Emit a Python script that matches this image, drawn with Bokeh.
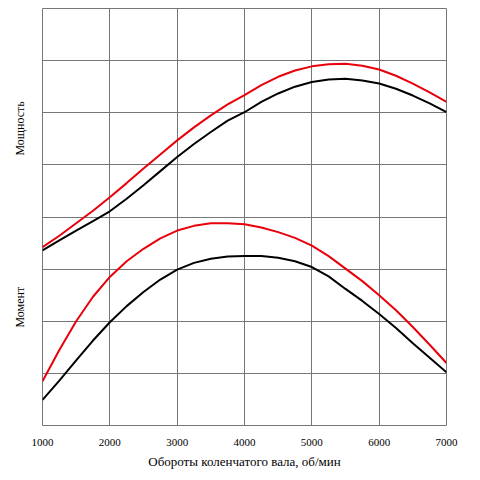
from bokeh.plotting import figure
from bokeh.models import Range1d, FixedTicker
from bokeh.embed import file_html
from bokeh.resources import INLINE

rpm = [1000, 1250, 1500, 1750, 2000, 2250, 2500, 2750, 3000, 3250, 3500, 3750, 4000,
       4250, 4500, 4750, 5000, 5250, 5500, 5750, 6000, 6250, 6500, 6750, 7000]

power_black = [3.36, 3.55, 3.74, 3.92, 4.11, 4.35, 4.61, 4.88, 5.15, 5.40, 5.63, 5.85, 6.01,
               6.21, 6.37, 6.50, 6.59, 6.64, 6.65, 6.62, 6.56, 6.46, 6.33, 6.18, 6.01]
power_red = [3.42, 3.64, 3.88, 4.12, 4.38, 4.65, 4.93, 5.20, 5.47, 5.72, 5.95, 6.16, 6.34,
             6.53, 6.69, 6.81, 6.89, 6.93, 6.94, 6.90, 6.83, 6.71, 6.56, 6.39, 6.21]
torque_black = [0.49, 0.86, 1.25, 1.63, 1.98, 2.29, 2.56, 2.80, 2.99, 3.12, 3.20, 3.24, 3.25,
                3.25, 3.22, 3.15, 3.04, 2.86, 2.62, 2.39, 2.14, 1.87, 1.58, 1.30, 1.02]
torque_red = [0.85, 1.45, 2.00, 2.47, 2.85, 3.15, 3.39, 3.59, 3.74, 3.83, 3.88, 3.88, 3.86,
              3.80, 3.71, 3.60, 3.45, 3.25, 3.01, 2.77, 2.50, 2.21, 1.89, 1.55, 1.20]

x_ticks = [1000, 2000, 3000, 4000, 5000, 6000, 7000]
y_grid = [0, 1, 2, 3, 4, 5, 6, 7, 8]
y_label_pos = [5.7, 2.27]
y_label_text = ["Мощность", "Момент"]

FONT = "Liberation Serif"
GRID = "#767676"

p = figure(width=472, height=472, output_backend="svg", toolbar_location=None,
           x_range=Range1d(1000, 7000), y_range=Range1d(0, 8),
           min_border_left=42, min_border_right=26, min_border_top=8, min_border_bottom=47)
p.background_fill_color = "white"
p.border_fill_color = "white"
p.outline_line_color = GRID
p.outline_line_width = 1

p.ygrid.ticker = FixedTicker(ticks=y_grid)
p.xaxis.ticker = FixedTicker(ticks=x_ticks)
p.xgrid.ticker = FixedTicker(ticks=x_ticks)
for g in (p.xgrid, p.ygrid):
    g.grid_line_color = GRID
    g.grid_line_width = 1
    g.grid_line_alpha = 1.0

ax = p.xaxis[0]
ax.axis_line_color = None
ax.major_tick_line_color = None
ax.minor_tick_line_color = None
ax.major_tick_out = 0
ax.major_tick_in = 0
ax.major_label_standoff = 13
ax.major_label_text_font = FONT
ax.major_label_text_font_size = "11px"
ax.major_label_text_color = "black"
ax.axis_label = "Обороты коленчатого вала, об/мин"
ax.axis_label_text_font = FONT
ax.axis_label_text_font_size = "13px"
ax.axis_label_text_font_style = "normal"
ax.axis_label_text_color = "black"
ax.axis_label_standoff = 5

yax = p.yaxis[0]
yax.ticker = FixedTicker(ticks=y_label_pos)
yax.major_label_overrides = dict(zip(y_label_pos, y_label_text))
yax.major_label_orientation = "vertical"
yax.axis_line_color = None
yax.major_tick_line_color = None
yax.minor_tick_line_color = None
yax.major_tick_out = 0
yax.major_tick_in = 0
yax.major_label_standoff = 15
yax.major_label_text_font = FONT
yax.major_label_text_font_size = "12px"
yax.major_label_text_color = "black"

p.line(rpm, power_black, line_color="black", line_width=2)
p.line(rpm, power_red, line_color="#e8000b", line_width=2)
p.line(rpm, torque_black, line_color="black", line_width=2)
p.line(rpm, torque_red, line_color="#e8000b", line_width=2)

open("out.html", "w").write(file_html(p, INLINE))
